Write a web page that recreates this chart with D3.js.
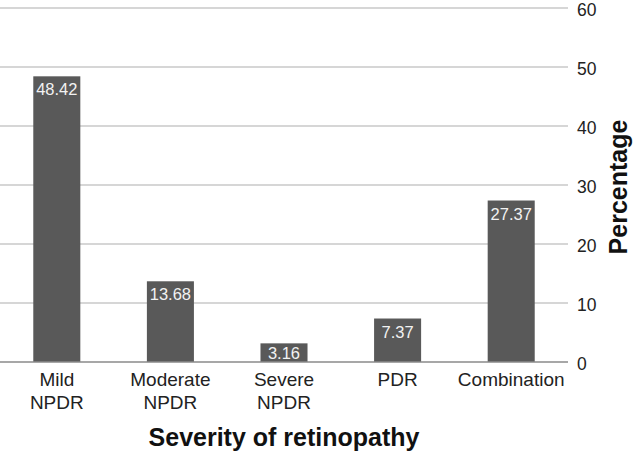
<!DOCTYPE html>
<html><head><meta charset="utf-8">
<script src="https://cdn.jsdelivr.net/npm/d3@7"></script>
<style>body{margin:0;background:#fff}svg{display:block}text{font-family:"Liberation Sans",Arial,sans-serif}</style>
</head><body>
<svg id="c" width="636" height="451"></svg>
<script>
const categories = [["Mild","NPDR"],["Moderate","NPDR"],["Severe","NPDR"],["PDR"],["Combination"]];
const values = [48.42, 13.68, 3.16, 7.37, 27.37];
const yTicks = [0,10,20,30,40,50,60];
const xTitle = "Severity of retinopathy";
const yTitle = "Percentage";

const svg = d3.select("#c");
const mLeft = 0, mRight = 568, mTop = 8, mBottom = 362;
const keys = categories.map((c,i)=>i);
const x = d3.scaleBand().domain(keys).range([mLeft,mRight]).paddingInner(0.586).paddingOuter(0.293);
const y = d3.scaleLinear().domain([0,60]).range([mBottom,mTop]);

// gridlines
svg.append("g").selectAll("line").data(yTicks.filter(t=>t>0)).join("line")
  .attr("x1",mLeft).attr("x2",mRight).attr("y1",d=>y(d)).attr("y2",d=>y(d))
  .attr("stroke","#c8c8c8").attr("stroke-width",1.5);

// right axis
const ax = svg.append("g").attr("transform",`translate(${mRight},0)`)
  .call(d3.axisRight(y).tickValues(yTicks).tickSize(0).tickPadding(9));
ax.select(".domain").remove();
ax.selectAll("text").attr("font-size",17.5).attr("dy","0.42em").attr("fill","#222")
  .attr("font-family","'Liberation Sans',Arial,sans-serif");

// bars
svg.append("g").selectAll("rect").data(values).join("rect")
  .attr("x",(d,i)=>x(i)).attr("width",x.bandwidth())
  .attr("y",d=>y(d)).attr("height",d=>y(0)-y(d)).attr("fill","#595959");

// baseline
svg.append("line").attr("x1",mLeft).attr("x2",mRight).attr("y1",y(0)).attr("y2",y(0))
  .attr("stroke","#8a8a8a").attr("stroke-width",1.5);

// value labels
svg.append("g").selectAll("text").data(values).join("text")
  .attr("x",(d,i)=>x(i)+x.bandwidth()/2)
  .attr("y",d=>Math.min(y(d)+19,(y(d)+y(0))/2+6))
  .attr("text-anchor","middle").attr("font-size",16.5).attr("fill","#f2f2f2")
  .text(d=>d.toFixed(2));

// category labels
const cl = svg.append("g").selectAll("text").data(categories).join("text")
  .attr("x",(d,i)=>x(i)+x.bandwidth()/2).attr("y",386)
  .attr("text-anchor","middle").attr("font-size",19).attr("fill","#222");
cl.each(function(d){
  const t=d3.select(this);
  d.forEach((s,j)=>t.append("tspan").attr("x",t.attr("x")).attr("dy",j?23:0).text(s));
});

// axis titles
svg.append("text").attr("x",(mLeft+mRight)/2).attr("y",445.5).attr("text-anchor","middle")
  .attr("font-size",25).attr("font-weight","bold").attr("fill","#111").text(xTitle);
svg.append("text").attr("transform","translate(627,187) rotate(-90)").attr("text-anchor","middle")
  .attr("font-size",25).attr("font-weight","bold").attr("fill","#111").text(yTitle);
</script>
</body></html>
